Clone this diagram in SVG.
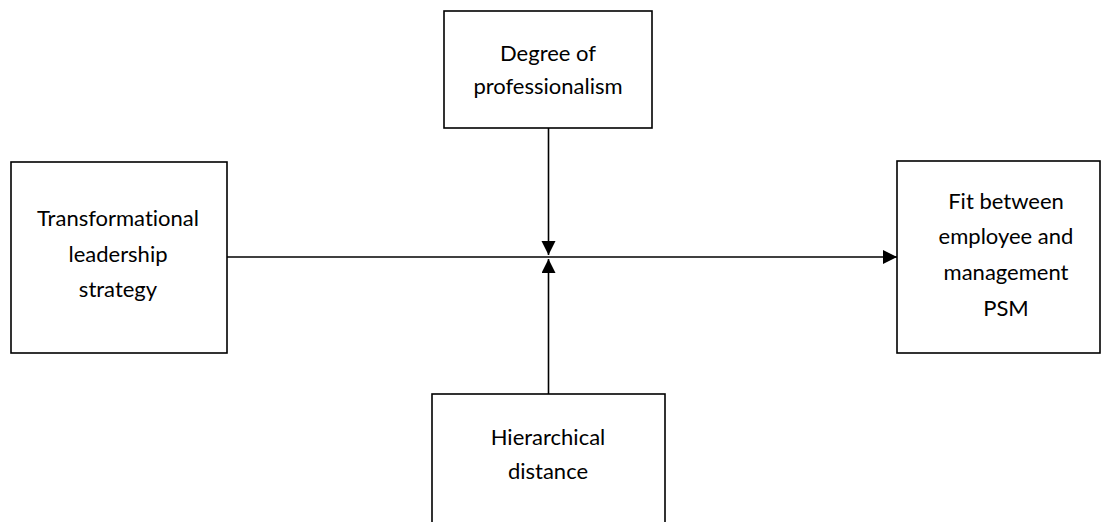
<svg xmlns="http://www.w3.org/2000/svg" width="1101" height="522" viewBox="0 0 1101 522">
<style>
.box{fill:#fff;stroke:#000;stroke-width:1.6}
.lbl{font-family:Lato,"Open Sans",sans-serif;font-size:22px;fill:#000;text-anchor:middle;font-variant-ligatures:none;font-feature-settings:"liga" 0}
.con{stroke:#000;stroke-width:1.6;fill:none}
</style>
<defs>
<marker id="arr" markerUnits="userSpaceOnUse" markerWidth="16" markerHeight="16" refX="14" refY="7" orient="auto">
<path d="M0,0 L14,7 L0,14 Z" fill="#000"/>
</marker>
</defs>
<rect width="1101" height="522" fill="#fff"/>
<g id="connectors">
<line class="con" x1="227" y1="257" x2="897" y2="257" marker-end="url(#arr)"/>
<line class="con" x1="548.5" y1="128" x2="548.5" y2="255" marker-end="url(#arr)"/>
<line class="con" x1="548.5" y1="394" x2="548.5" y2="259" marker-end="url(#arr)"/>
</g>
<g id="node-transformational">
<rect class="box" x="11" y="162" width="216" height="191"/>
<text class="lbl" x="118" y="226">Transformational</text>
<text class="lbl" x="118" y="262">leadership</text>
<text class="lbl" x="118" y="297">strategy</text>
</g>
<g id="node-professionalism">
<rect class="box" x="444" y="11" width="208" height="117"/>
<text class="lbl" x="548" y="61">Degree of</text>
<text class="lbl" x="548" y="94">professionalism</text>
</g>
<g id="node-hierarchical">
<rect class="box" x="432" y="394" width="233" height="140"/>
<text class="lbl" x="548" y="445">Hierarchical</text>
<text class="lbl" x="548" y="479">distance</text>
</g>
<g id="node-fit">
<rect class="box" x="897" y="161" width="203" height="192"/>
<text class="lbl" x="1006" y="209">Fit between</text>
<text class="lbl" x="1006" y="244">employee and</text>
<text class="lbl" x="1006" y="280">management</text>
<text class="lbl" x="1006" y="316">PSM</text>
</g>
</svg>
